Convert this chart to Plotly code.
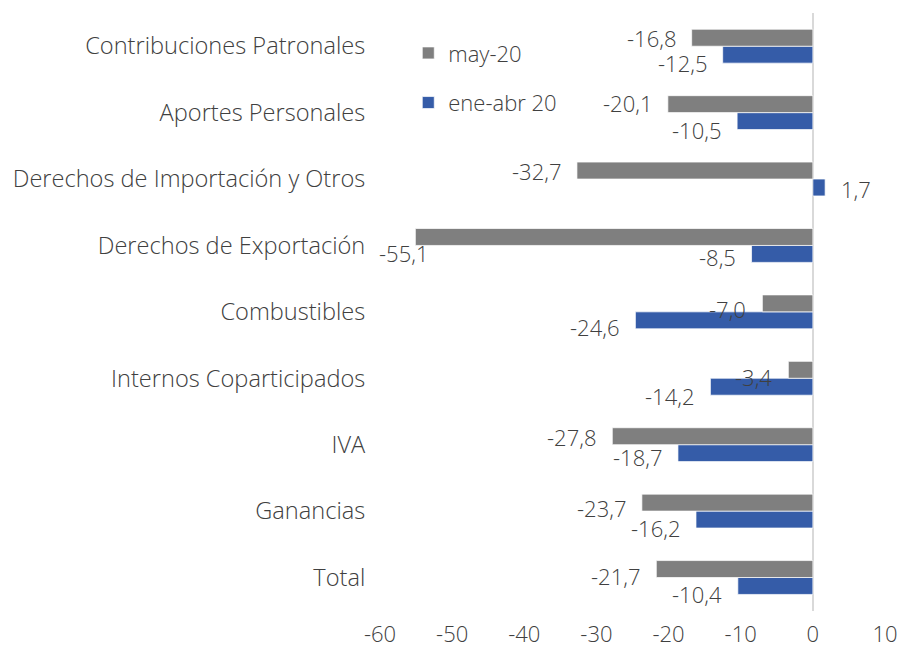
import plotly.graph_objects as go

categories = ["Total", "Ganancias", "IVA", "Internos Coparticipados", "Combustibles",
              "Derechos de Exportación", "Derechos de Importación y Otros",
              "Aportes Personales", "Contribuciones Patronales"]
may_20 = [-21.7, -23.7, -27.8, -3.4, -7.0, -55.1, -32.7, -20.1, -16.8]
ene_abr_20 = [-10.4, -16.2, -18.7, -14.2, -24.6, -8.5, 1.7, -10.5, -12.5]
x_ticks = [-60, -50, -40, -30, -20, -10, 0, 10]

# label placement nudges (pixels below each bar's centre), style only
may_nudge = [7, 5, 1, 7, 6, 0, 0, -1, 0]
ene_nudge = [8, 8, 4, 9, 7, 3, 1, 9, 8]

GRAY = "#7F7F7F"
BLUE = "#355CA8"
TEXT = "#404040"
FONT = "Open Sans"
FS = 22
CAT_FS = 23.6
WEIGHT = 300

fig = go.Figure()
fig.add_trace(go.Bar(y=categories, x=ene_abr_20, orientation="h", name="ene-abr 20",
                     marker=dict(color=BLUE, line=dict(color="rgba(255,255,255,0.7)", width=1)),
                     legendgroup="b", legendrank=2))
fig.add_trace(go.Bar(y=categories, x=may_20, orientation="h", name="may-20",
                     marker=dict(color=GRAY, line=dict(color="rgba(255,255,255,0.7)", width=1)),
                     legendgroup="a", legendrank=1))

def fmt(v):
    return f"{v:.1f}".replace(".", ",")

half = 8.5  # half bar thickness offset in px
lab_font = dict(family=FONT, size=FS, color=TEXT, weight=WEIGHT)
annotations = []
for cat, v, n in zip(categories, may_20, may_nudge):
    dy = half - n
    xanchor, xshift = ("right", -14) if v < 0 else ("left", 14)
    if cat == "Derechos de Exportación":
        xanchor, xshift, dy = "right", 15, -8
    annotations.append(dict(x=v, y=cat, text=fmt(v), showarrow=False, xanchor=xanchor,
                            xshift=xshift, yshift=dy, font=lab_font))
for cat, v, n in zip(categories, ene_abr_20, ene_nudge):
    dy = -half - n
    xanchor, xshift = ("right", -14) if v < 0 else ("left", 14)
    annotations.append(dict(x=v, y=cat, text=fmt(v), showarrow=False, xanchor=xanchor,
                            xshift=xshift, yshift=dy, font=lab_font))

fig.update_layout(
    width=900, height=648,
    margin=dict(l=380, r=15, t=13, b=37),
    paper_bgcolor="white", plot_bgcolor="white",
    barmode="group", bargap=0.49, bargroupgap=0,
    font=dict(family=FONT, size=FS, color=TEXT, weight=WEIGHT),
    showlegend=True,
    legend=dict(x=0.056, y=0.968, xanchor="left", yanchor="top", traceorder="grouped",
                tracegroupgap=18, itemwidth=30, bgcolor="rgba(0,0,0,0)",
                font=dict(family=FONT, size=FS, color=TEXT, weight=WEIGHT)),
    annotations=annotations,
)
fig.update_xaxes(range=[-60, 10], tickvals=x_ticks, ticktext=[str(t) for t in x_ticks],
                 showgrid=False, zeroline=True, zerolinecolor="#D9D9D9", zerolinewidth=2,
                 showline=False, ticks="outside", ticklen=4, tickcolor="rgba(0,0,0,0)",
                 automargin=False)
fig.update_yaxes(showgrid=False, zeroline=False, showline=False, ticks="outside",
                 ticklen=9, tickcolor="rgba(0,0,0,0)", automargin=False,
                 tickfont=dict(family=FONT, size=CAT_FS, color=TEXT, weight=WEIGHT),
                 categoryorder="array", categoryarray=categories)

fig.write_html("out.html", config={"displayModeBar": False},
               post_script="document.body.style.margin='0px';")
